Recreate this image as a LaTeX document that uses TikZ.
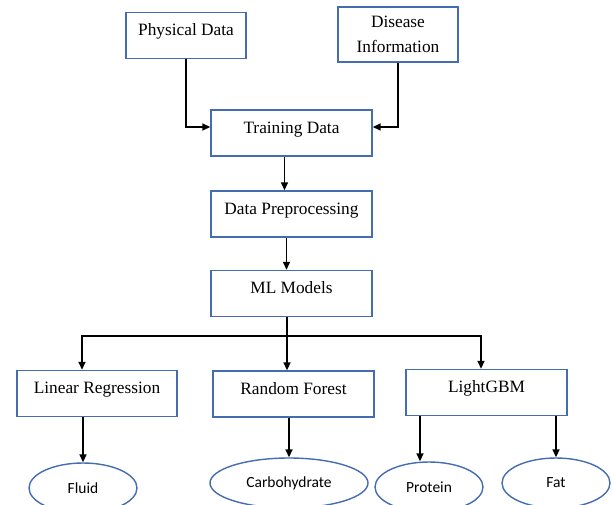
\documentclass[tikz,border=0pt]{standalone}
\usepackage{fontspec}
\setmainfont{Liberation Serif}
\newfontfamily\ellfont{Carlito}
\usetikzlibrary{shapes.geometric,arrows.meta,calc}
\definecolor{boxblue}{RGB}{68,108,176}
\tikzset{
  box/.style={draw=boxblue, line width=1.4pt, rectangle, inner sep=0pt,
    minimum width=161pt, text height=23pt, text depth=23pt,
    font=\fontsize{17.3}{20}\selectfont},
  box2/.style={draw=boxblue, line width=1.4pt, rectangle, inner sep=0pt,
    minimum width=120pt, minimum height=55pt, align=center,
    font=\fontsize{17.3}{25}\selectfont},
  oval/.style={draw=boxblue, line width=1.4pt, ellipse, inner sep=0pt,
    minimum width=108pt, minimum height=50pt,
    font=\ellfont\fontsize{15.5}{18}\selectfont},
  arr/.style={draw=black, line width=1.5pt, -{Triangle[length=8pt,width=7pt]}}
}
\begin{document}
\begin{tikzpicture}[x=1pt,y=-1pt]
\useasboundingbox (0,0) rectangle (612,504);
\clip (0,0) rectangle (612,504);
\node[box, minimum width=120pt] (phys) at (186,35.5) {Physical Data};
\node[box2] (dis) at (398,34.5) {Disease\\Information};
\node[box] (train) at (291.5,133) {Training Data};
\node[box] (prep) at (291.5,214) {Data Preprocessing};
\node[box] (ml) at (291.5,293.5) {ML Models};
\node[box, minimum width=160pt] (lr) at (97,393.5) {Linear Regression};
\node[box] (rf) at (293.5,394) {Random Forest};
\node[box] (lgbm) at (486.5,392.5) {LightGBM};
\node[oval] (fluid) at (83,488) {Fluid};
\node[oval, minimum width=158pt] (carb) at (289,483) {Carbohydrate};
\node[oval] (prot) at (429,487) {Protein};
\node[oval] (fat) at (556,483) {Fat};
\coordinate (bus) at (287,336);
\draw[arr] (phys.south) |- ([yshift=6pt]train.west);
\draw[arr] (dis.south) |- ([yshift=6pt]train.east);
\draw[arr] ([xshift=-7pt]train.south) -- ([xshift=-7pt]prep.north);
\draw[arr] ([xshift=-5pt]prep.south) -- ([xshift=-5pt]ml.north);
\draw[arr] (ml.south -| bus) -- (rf.north -| bus);
\draw[arr] (bus) -| ([xshift=-15pt]lr.north);
\draw[arr] (bus) -| ([xshift=-5.5pt]lgbm.north);
\draw[arr] (fluid |- lr.south) -- (fluid.north);
\draw[arr] (carb |- rf.south) -- (carb.north);
\draw[arr] ([xshift=-66.5pt]lgbm.south) -- ([xshift=-9pt]prot.north);
\draw[arr] (fat |- lgbm.south) -- (fat.north);
\end{tikzpicture}
\end{document}
